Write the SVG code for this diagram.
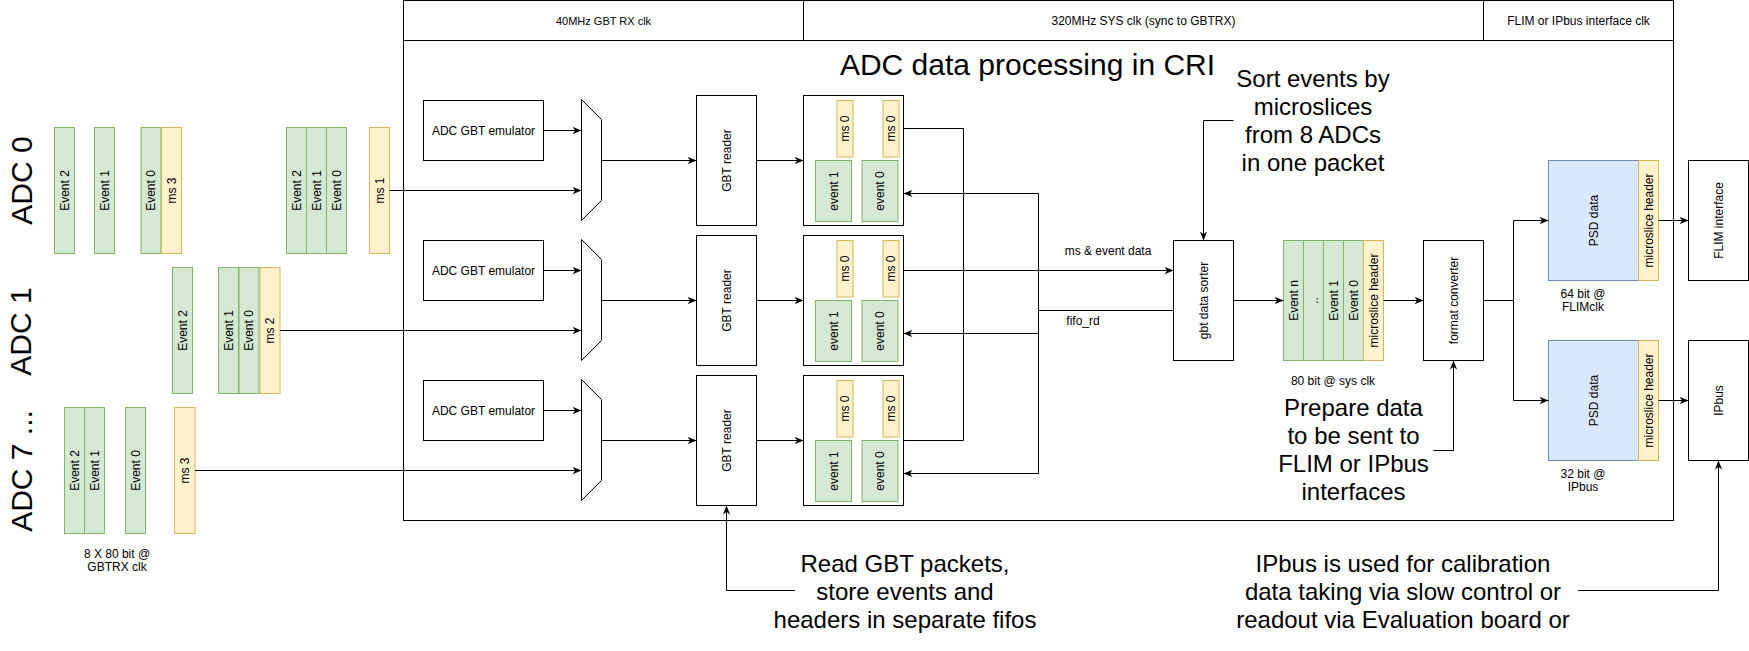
<svg xmlns="http://www.w3.org/2000/svg" width="1749" height="651" viewBox="0 0 1749 651">
  <defs>
    <marker id="arrow" viewBox="0 0 10 8" refX="10" refY="4" markerWidth="9" markerHeight="7.2" markerUnits="userSpaceOnUse" orient="auto">
      <path d="M0,0 L10,4 L0,8 L3,4 z" fill="#000"/>
    </marker>
  </defs>
  <style>
    text { font-family: "Liberation Sans", Arial, sans-serif; fill: #000; }
    .box { fill: #fff; stroke: #000; stroke-width: 1; }
    .frame { fill: none; stroke: #000; stroke-width: 1; }
    .ev { fill: #d5e8d4; stroke: #82b366; stroke-width: 1; }
    .ms { fill: #fff2cc; stroke: #d6b656; stroke-width: 1; }
    .psd { fill: #dae8fc; stroke: #6c8ebf; stroke-width: 1; }
    .s11 { font-size: 11px; }
    .s12 { font-size: 12px; }
    .s24 { font-size: 24px; }
    .s30 { font-size: 30px; }
    .mid { text-anchor: middle; }
    .rl { font-size: 12px; text-anchor: middle; dominant-baseline: central; }
    .edge { fill: none; stroke: #000; stroke-width: 1; }
    .arr { marker-end: url(#arrow); }
  </style>

  <!-- processing block frame with clock-domain header -->
  <g id="cri-frame">
    <rect class="frame" x="403.5" y="0.5" width="1270" height="520"/>
    <line class="frame" x1="403.5" y1="40.5" x2="1673.5" y2="40.5"/>
    <line class="frame" x1="803.5" y1="0.5" x2="803.5" y2="40.5"/>
    <line class="frame" x1="1483.5" y1="0.5" x2="1483.5" y2="40.5"/>
    <text class="s11 mid" x="603.5" y="24.5">40MHz GBT RX clk</text>
    <text class="s12 mid" x="1143.5" y="25">320MHz SYS clk (sync to GBTRX)</text>
    <text class="s12 mid" x="1578.5" y="25">FLIM or IPbus interface clk</text>
    <text class="s30 mid" x="1027.5" y="75">ADC data processing in CRI</text>
  </g>

  <!-- ADC input streams -->
  <g id="adc0">
    <text class="s30 mid" transform="translate(31.5,180.5) rotate(-90)">ADC 0</text>
    <rect class="ev" x="54.5" y="127.5" width="20" height="126"/>
    <text class="rl" transform="translate(64.5,190.5) rotate(-90)">Event 2</text>
    <rect class="ev" x="94.5" y="127.5" width="20" height="126"/>
    <text class="rl" transform="translate(104.5,190.5) rotate(-90)">Event 1</text>
    <rect class="ev" x="141" y="127.5" width="20" height="126"/>
    <text class="rl" transform="translate(151,190.5) rotate(-90)">Event 0</text>
    <rect class="ms" x="161.5" y="127.5" width="20" height="126"/>
    <text class="rl" transform="translate(171.5,190.5) rotate(-90)">ms 3</text>
    <rect class="ev" x="286.5" y="127.5" width="20" height="126"/>
    <text class="rl" transform="translate(296.5,190.5) rotate(-90)">Event 2</text>
    <rect class="ev" x="306.5" y="127.5" width="20" height="126"/>
    <text class="rl" transform="translate(316.5,190.5) rotate(-90)">Event 1</text>
    <rect class="ev" x="326.5" y="127.5" width="20" height="126"/>
    <text class="rl" transform="translate(336.5,190.5) rotate(-90)">Event 0</text>
    <rect class="ms" x="369.5" y="127.5" width="20" height="126"/>
    <text class="rl" transform="translate(379.5,190.5) rotate(-90)">ms 1</text>
  </g>
  <g id="adc1">
    <text class="s30 mid" transform="translate(30.5,331.5) rotate(-90)">ADC 1</text>
    <rect class="ev" x="172.5" y="267.5" width="20" height="126"/>
    <text class="rl" transform="translate(182.5,330.5) rotate(-90)">Event 2</text>
    <rect class="ev" x="218.5" y="267.5" width="20" height="126"/>
    <text class="rl" transform="translate(228.5,330.5) rotate(-90)">Event 1</text>
    <rect class="ev" x="239" y="267.5" width="20" height="126"/>
    <text class="rl" transform="translate(249,330.5) rotate(-90)">Event 0</text>
    <rect class="ms" x="260" y="267.5" width="20" height="126"/>
    <text class="rl" transform="translate(270,330.5) rotate(-90)">ms 2</text>
  </g>
  <g id="adc7">
    <text class="s30 mid" transform="translate(31.5,471) rotate(-90)">ADC 7 ...</text>
    <rect class="ev" x="64.5" y="407.5" width="20" height="126"/>
    <text class="rl" transform="translate(74.5,470.5) rotate(-90)">Event 2</text>
    <rect class="ev" x="84.5" y="407.5" width="20" height="126"/>
    <text class="rl" transform="translate(94.5,470.5) rotate(-90)">Event 1</text>
    <rect class="ev" x="125.5" y="407.5" width="20" height="126"/>
    <text class="rl" transform="translate(135.5,470.5) rotate(-90)">Event 0</text>
    <rect class="ms" x="174.5" y="407.5" width="20.5" height="126"/>
    <text class="rl" transform="translate(184.75,470.5) rotate(-90)">ms 3</text>
    <text class="s12 mid" x="117" y="557.5">8 X 80 bit @</text>
    <text class="s12 mid" x="117" y="571">GBTRX clk</text>
  </g>

  <!-- emulators -->
  <g id="emulator-1">
    <rect class="box" x="423.5" y="100.5" width="120" height="60"/>
    <text class="s12 mid" x="483.5" y="134.5">ADC GBT emulator</text>
  </g>
  <g id="emulator-2">
    <rect class="box" x="423.5" y="240.5" width="120" height="60"/>
    <text class="s12 mid" x="483.5" y="274.5">ADC GBT emulator</text>
  </g>
  <g id="emulator-3">
    <rect class="box" x="423.5" y="380.5" width="120" height="60"/>
    <text class="s12 mid" x="483.5" y="414.5">ADC GBT emulator</text>
  </g>

  <!-- input multiplexers -->
  <g id="mux-1"><polygon class="box" points="581.5,99.5 601.5,119.5 601.5,200.5 581.5,220.5"/></g>
  <g id="mux-2"><polygon class="box" points="581.5,239.5 601.5,259.5 601.5,340.5 581.5,360.5"/></g>
  <g id="mux-3"><polygon class="box" points="581.5,379.5 601.5,399.5 601.5,480.5 581.5,500.5"/></g>

  <!-- GBT readers -->
  <g id="reader-1">
    <rect class="box" x="696.5" y="95.5" width="60" height="130"/>
    <text class="rl" transform="translate(726.5,160.5) rotate(-90)">GBT reader</text>
  </g>
  <g id="reader-2">
    <rect class="box" x="696.5" y="235.5" width="60" height="130"/>
    <text class="rl" transform="translate(726.5,300.5) rotate(-90)">GBT reader</text>
  </g>
  <g id="reader-3">
    <rect class="box" x="696.5" y="375.5" width="60" height="130"/>
    <text class="rl" transform="translate(726.5,440.5) rotate(-90)">GBT reader</text>
  </g>

  <!-- fifos -->
  <g id="fifo-1">
    <rect class="box" x="803.5" y="95.5" width="100" height="130"/>
    <rect class="ms" x="837" y="100.5" width="16" height="56.5"/>
    <text class="rl" transform="translate(845,128.5) rotate(-90)">ms 0</text>
    <rect class="ms" x="883" y="100.5" width="16" height="56.5"/>
    <text class="rl" transform="translate(891,128.5) rotate(-90)">ms 0</text>
    <rect class="ev" x="815.5" y="160.5" width="36" height="61"/>
    <text class="rl" transform="translate(833.5,191) rotate(-90)">event 1</text>
    <rect class="ev" x="862" y="160.5" width="36" height="61"/>
    <text class="rl" transform="translate(880,191) rotate(-90)">event 0</text>
  </g>
  <g id="fifo-2">
    <rect class="box" x="803.5" y="235.5" width="100" height="130"/>
    <rect class="ms" x="837" y="240.5" width="16" height="56.5"/>
    <text class="rl" transform="translate(845,268.5) rotate(-90)">ms 0</text>
    <rect class="ms" x="883" y="240.5" width="16" height="56.5"/>
    <text class="rl" transform="translate(891,268.5) rotate(-90)">ms 0</text>
    <rect class="ev" x="815.5" y="300.5" width="36" height="61"/>
    <text class="rl" transform="translate(833.5,331) rotate(-90)">event 1</text>
    <rect class="ev" x="862" y="300.5" width="36" height="61"/>
    <text class="rl" transform="translate(880,331) rotate(-90)">event 0</text>
  </g>
  <g id="fifo-3">
    <rect class="box" x="803.5" y="375.5" width="100" height="130"/>
    <rect class="ms" x="837" y="380.5" width="16" height="56.5"/>
    <text class="rl" transform="translate(845,408.5) rotate(-90)">ms 0</text>
    <rect class="ms" x="883" y="380.5" width="16" height="56.5"/>
    <text class="rl" transform="translate(891,408.5) rotate(-90)">ms 0</text>
    <rect class="ev" x="815.5" y="440.5" width="36" height="61"/>
    <text class="rl" transform="translate(833.5,471) rotate(-90)">event 1</text>
    <rect class="ev" x="862" y="440.5" width="36" height="61"/>
    <text class="rl" transform="translate(880,471) rotate(-90)">event 0</text>
  </g>

  <!-- sorter and packet -->
  <g id="sorter">
    <rect class="box" x="1173.5" y="240.5" width="60" height="120"/>
    <text class="rl" transform="translate(1203.5,300.5) rotate(-90)">gbt data sorter</text>
  </g>
  <g id="packet">
    <rect class="ev" x="1283.5" y="240.5" width="20" height="120"/>
    <text class="rl" transform="translate(1293.5,300.5) rotate(-90)">Event n</text>
    <rect class="ev" x="1303.5" y="240.5" width="20" height="120"/>
    <text class="rl" transform="translate(1313.5,300.5) rotate(-90)">..</text>
    <rect class="ev" x="1323.5" y="240.5" width="20" height="120"/>
    <text class="rl" transform="translate(1333.5,300.5) rotate(-90)">Event 1</text>
    <rect class="ev" x="1343.5" y="240.5" width="20" height="120"/>
    <text class="rl" transform="translate(1353.5,300.5) rotate(-90)">Event 0</text>
    <rect class="ms" x="1363.5" y="240.5" width="20" height="120"/>
    <text class="rl" transform="translate(1373.5,300.5) rotate(-90)">microslice header</text>
    <text class="s12 mid" x="1333" y="384.5">80 bit @ sys clk</text>
  </g>
  <g id="format-converter">
    <rect class="box" x="1423.5" y="240.5" width="60" height="120"/>
    <text class="rl" transform="translate(1453.5,300.5) rotate(-90)">format converter</text>
  </g>

  <!-- output formats -->
  <g id="psd-flim">
    <rect class="psd" x="1548.5" y="160.5" width="90" height="120"/>
    <text class="rl" transform="translate(1593.5,220.5) rotate(-90)">PSD data</text>
    <rect class="ms" x="1638.5" y="160.5" width="20" height="120"/>
    <text class="rl" transform="translate(1648.5,220.5) rotate(-90)">microslice header</text>
    <text class="s12 mid" x="1583" y="298">64 bit @</text>
    <text class="s12 mid" x="1583" y="311">FLIMclk</text>
  </g>
  <g id="psd-ipbus">
    <rect class="psd" x="1548.5" y="340.5" width="90" height="120"/>
    <text class="rl" transform="translate(1593.5,400.5) rotate(-90)">PSD data</text>
    <rect class="ms" x="1638.5" y="340.5" width="20" height="120"/>
    <text class="rl" transform="translate(1648.5,400.5) rotate(-90)">microslice header</text>
    <text class="s12 mid" x="1583" y="478">32 bit @</text>
    <text class="s12 mid" x="1583" y="491">IPbus</text>
  </g>
  <g id="flim-interface">
    <rect class="box" x="1688.5" y="160.5" width="60" height="120"/>
    <text class="rl" transform="translate(1718.5,220.5) rotate(-90)">FLIM interface</text>
  </g>
  <g id="ipbus">
    <rect class="box" x="1688.5" y="340.5" width="60" height="120"/>
    <text class="rl" transform="translate(1718.5,400.5) rotate(-90)">IPbus</text>
  </g>

  <!-- notes -->
  <g id="note-sort">
    <text class="s24 mid" x="1313" y="87">Sort events by</text>
    <text class="s24 mid" x="1313" y="115">microslices</text>
    <text class="s24 mid" x="1313" y="143">from 8 ADCs</text>
    <text class="s24 mid" x="1313" y="171">in one packet</text>
  </g>
  <g id="note-prepare">
    <text class="s24 mid" x="1353.5" y="416">Prepare data</text>
    <text class="s24 mid" x="1353.5" y="444">to be sent to</text>
    <text class="s24 mid" x="1353.5" y="472">FLIM or IPbus</text>
    <text class="s24 mid" x="1353.5" y="500">interfaces</text>
  </g>
  <g id="note-read">
    <text class="s24 mid" x="905" y="572">Read GBT packets,</text>
    <text class="s24 mid" x="905" y="600">store events and</text>
    <text class="s24 mid" x="905" y="628">headers in separate fifos</text>
  </g>
  <g id="note-ipbus">
    <text class="s24 mid" x="1403" y="572">IPbus is used for calibration</text>
    <text class="s24 mid" x="1403" y="600">data taking via slow control or</text>
    <text class="s24 mid" x="1403" y="628">readout via Evaluation board or</text>
  </g>

  <!-- connectors -->
  <g id="connectors">
    <path class="edge arr" d="M389.5,190.5 H581.5"/>
    <path class="edge arr" d="M280,330.5 H581.5"/>
    <path class="edge arr" d="M195,470.5 H581.5"/>
    <path class="edge arr" d="M543.5,130.5 H581.5"/>
    <path class="edge arr" d="M543.5,270.5 H581.5"/>
    <path class="edge arr" d="M543.5,410.5 H581.5"/>
    <path class="edge arr" d="M601.5,160.5 H696.5"/>
    <path class="edge arr" d="M601.5,300.5 H696.5"/>
    <path class="edge arr" d="M601.5,440.5 H696.5"/>
    <path class="edge arr" d="M756.5,160.5 H803.5"/>
    <path class="edge arr" d="M756.5,300.5 H803.5"/>
    <path class="edge arr" d="M756.5,440.5 H803.5"/>
    <path class="edge" d="M903.5,128.5 H963.5 V440.5 H903.5"/>
    <path class="edge arr" d="M903.5,270.5 H1173.5"/>
    <text class="s12 mid" x="1108" y="255">ms &amp; event data</text>
    <path class="edge" d="M1173.5,310.5 H1038.5 M1038.5,193.5 V473.5"/>
    <path class="edge arr" d="M1038.5,193.5 H903.5"/>
    <path class="edge arr" d="M1038.5,333.5 H903.5"/>
    <path class="edge arr" d="M1038.5,473.5 H903.5"/>
    <text class="s12 mid" x="1083" y="325">fifo_rd</text>
    <path class="edge arr" d="M1233.5,120.5 H1203.5 V240.5"/>
    <path class="edge arr" d="M1233.5,300.5 H1283.5"/>
    <path class="edge arr" d="M1383.5,300.5 H1423.5"/>
    <path class="edge" d="M1483.5,300.5 H1513.5 M1513.5,220.5 V400.5"/>
    <path class="edge arr" d="M1513.5,220.5 H1548.5"/>
    <path class="edge arr" d="M1513.5,400.5 H1548.5"/>
    <path class="edge arr" d="M1658.5,220.5 H1688.5"/>
    <path class="edge arr" d="M1658.5,400.5 H1688.5"/>
    <path class="edge arr" d="M1433.5,450.5 H1453.5 V360.5"/>
    <path class="edge arr" d="M795,590.5 H726.5 V505.5"/>
    <path class="edge arr" d="M1578,590.5 H1718.5 V460.5"/>
  </g>
</svg>
